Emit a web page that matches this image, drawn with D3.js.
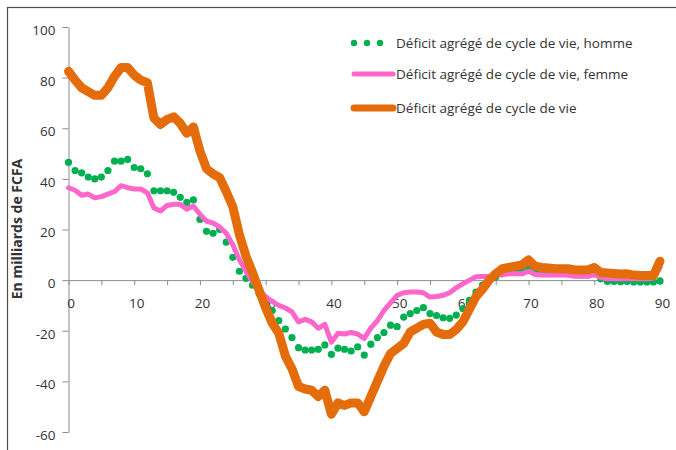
<!DOCTYPE html>
<html>
<head>
<meta charset="utf-8">
<script src="https://cdn.jsdelivr.net/npm/d3@7"></script>
<style>
  body { margin: 0; background: #fff; }
  text { font-family: "Open Sans", sans-serif; fill: #333; }
</style>
</head>
<body>
<div id="vis"></div>
<script>
// ages 0..90
const ages = d3.range(0, 91);

const homme = [46.5, 43.3, 42.4, 40.7, 40, 40.7, 43.3, 47, 47, 47.7,
  44.5, 44, 42, 35.3, 35.3, 35.3, 34.7, 32.7, 30.7, 31.7,
  24, 19.3, 18.5, 20, 15, 9, 3.5, 0.7, -2, -5.3,
  -8.7, -12, -16, -19.3, -22.7, -26.7, -27.6, -27.6, -27.3, -25.6,
  -29.3, -26.9, -27.3, -28, -26.4, -29.6, -25.3, -22.7, -20.7, -17.8,
  -18.4, -14.6, -13.2, -12, -10.9, -13.2, -14, -14.9, -15.1, -13.8,
  -11.2, -8, -4.7, -2, 0, 1.2, 2.5, 3.2, 3.5, 4,
  5, 3.5, 3.2, 3, 3, 2.8, 2.5, 2.3, 2, 2,
  2.5, 0.5, -0.5, -0.5, -0.6, -0.5, -0.7, -0.7, -0.7, -0.7,
  -0.3];

const femme = [36.5, 35.5, 33.5, 34, 32.5, 33, 34, 35, 37.3, 36.5,
  36, 36, 34.5, 28.5, 27.3, 29.5, 30, 30, 28, 29.3,
  26, 23.3, 22.5, 21, 18.5, 14, 8, 3.5, -0.5, -4,
  -6.5, -8.5, -10, -11, -12.5, -16.5, -15.5, -16.5, -19, -17.5,
  -24.5, -21, -21.3, -20.7, -21.3, -23, -19, -16, -12, -9,
  -6, -5, -4.7, -4.7, -5, -6.7, -6.5, -6, -5, -3,
  -1.5, 0, 1.3, 1.4, 1.4, 1.8, 2.2, 2.5, 2.5, 2.5,
  3.5, 2.2, 2, 2, 2, 2, 2, 1.5, 1.5, 1.5,
  2.2, 1, 0.5, 0.5, 0.5, 0.5, 0.5, 0.5, 0.5, 0.8,
  5];

const total = [82.5, 79, 76, 74.5, 73, 73, 76, 80.5, 84, 84,
  81, 79, 78, 64, 61.5, 63.5, 64.5, 62, 58, 60.5,
  51, 44, 42, 40.5, 35, 29, 18, 9.5, 3, -4,
  -11, -17, -21, -30, -35, -42, -43, -43.5, -46, -43.5,
  -53, -48.5, -49.5, -48.5, -48.5, -52, -46, -40, -34, -29,
  -27, -25, -20.5, -19, -17.5, -17, -20.5, -21.5, -21.5, -19.5,
  -16.5, -11.5, -6.5, -3.5, 0, 2.5, 4.5, 5, 5.5, 6,
  8, 5.5, 5, 4.8, 4.5, 4.5, 4.5, 4, 4, 4,
  5, 3, 2.8, 2.6, 2.4, 2.5, 2, 1.8, 1.8, 1.8,
  7.5];

const yTicks = [-60, -40, -20, 0, 20, 40, 60, 80, 100];
const xTicks = d3.range(0, 91, 5);
const seriesNames = [
  "Déficit agrégé de cycle de vie, homme",
  "Déficit agrégé de cycle de vie, femme",
  "Déficit agrégé de cycle de vie"
];
const yTitle = "En milliards de FCFA";

const W = 676, H = 450;
const svg = d3.select("#vis").append("svg")
  .attr("width", W)
  .attr("height", H);

// outer frame (only top and left edges fall inside the picture)
svg.append("rect")
  .attr("x", 7.5).attr("y", 7.5)
  .attr("width", 720).attr("height", 500)
  .attr("fill", "none")
  .attr("stroke", "#4d4d4d")
  .attr("stroke-width", 1.2);

const x = d3.scaleLinear().domain([0, 90]).range([68.5, 660]);
const y = d3.scaleLinear().domain([-60, 100]).range([432, 27]);

// y axis
const yAxis = svg.append("g")
  .attr("transform", "translate(68.5,0)")
  .call(d3.axisLeft(y).tickValues(yTicks).tickSize(6).tickSizeOuter(0).tickPadding(7)
    .tickFormat(d => String(d)));
yAxis.select(".domain").attr("stroke", "#8c8c8c");
yAxis.selectAll(".tick line").attr("stroke", "#8c8c8c");
yAxis.selectAll(".tick text")
  .style("font-size", "13.5px")
  .attr("dy", "0.55em")
  .attr("fill", "#333");

// x axis at y = 0
const xAxis = svg.append("g")
  .attr("transform", `translate(0,${y(0)})`)
  .call(d3.axisBottom(x).tickValues(xTicks).tickSize(5).tickSizeOuter(0).tickPadding(13)
    .tickFormat(d => d % 10 === 0 ? String(d) : ""));
xAxis.select(".domain").attr("stroke", "#8c8c8c");
xAxis.selectAll(".tick line").attr("stroke", "#8c8c8c");
xAxis.selectAll(".tick text")
  .style("font-size", "13.5px")
  .attr("dx", "0.15em")
  .attr("fill", "#333");

// y title
svg.append("text")
  .attr("transform", "translate(22,229) rotate(-90)")
  .attr("text-anchor", "middle")
  .style("font-size", "14px")
  .style("font-weight", "bold")
  .attr("fill", "#222")
  .text(yTitle);

const line = d3.line()
  .x((d, i) => x(ages[i]))
  .y(d => y(d));

// homme: dots
svg.append("g").selectAll("circle")
  .data(homme)
  .join("circle")
  .attr("cx", (d, i) => x(ages[i]))
  .attr("cy", d => y(d))
  .attr("r", 3.6)
  .attr("fill", "#00B050");

// femme
svg.append("path")
  .datum(femme)
  .attr("d", line)
  .attr("fill", "none")
  .attr("stroke", "#FF66CC")
  .attr("stroke-width", 5)
  .attr("stroke-linejoin", "round")
  .attr("stroke-linecap", "round");

// total
svg.append("path")
  .datum(total)
  .attr("d", line)
  .attr("fill", "none")
  .attr("stroke", "#E46C0A")
  .attr("stroke-width", 9)
  .attr("stroke-linejoin", "round")
  .attr("stroke-linecap", "round");

// legend
const leg = svg.append("g");
const legY = [43, 74, 108];
[354, 367, 380].forEach(cx => {
  leg.append("circle").attr("cx", cx).attr("cy", legY[0]).attr("r", 3.2).attr("fill", "#00B050");
});
leg.append("line").attr("x1", 354).attr("x2", 393).attr("y1", legY[1]).attr("y2", legY[1])
  .attr("stroke", "#FF66CC").attr("stroke-width", 5).attr("stroke-linecap", "round");
leg.append("line").attr("x1", 354).attr("x2", 393).attr("y1", legY[2]).attr("y2", legY[2])
  .attr("stroke", "#E46C0A").attr("stroke-width", 7).attr("stroke-linecap", "round");
seriesNames.forEach((name, i) => {
  leg.append("text")
    .attr("x", 396)
    .attr("y", legY[i])
    .attr("dy", "0.35em")
    .style("font-size", "13.5px")
    .attr("fill", "#222")
    .text(name);
});
</script>
</body>
</html>
